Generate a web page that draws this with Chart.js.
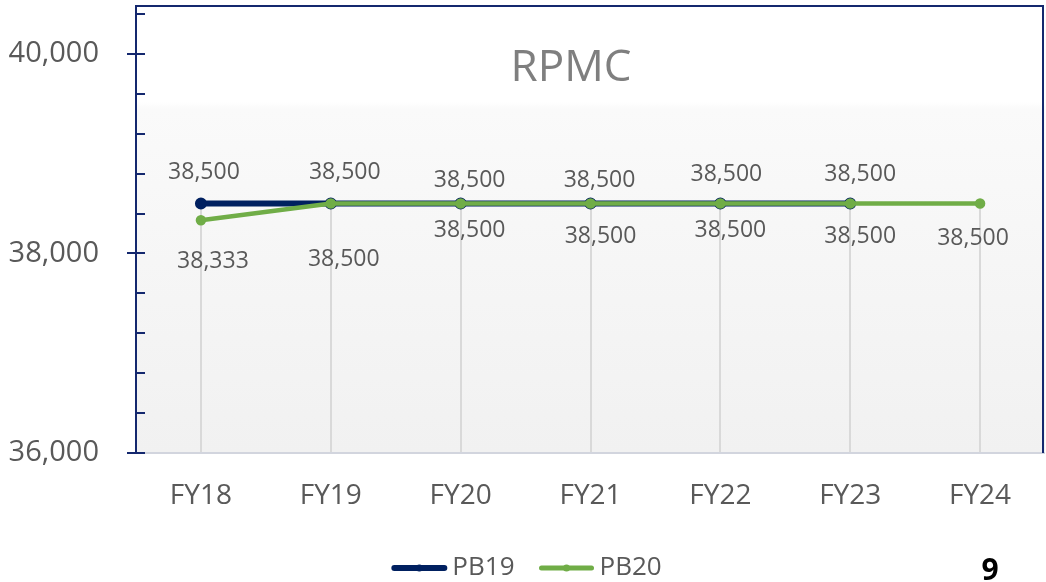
<!DOCTYPE html>
<html>
<head>
<meta charset="utf-8">
<script src="https://cdn.jsdelivr.net/npm/chart.js@4.4.0/dist/chart.umd.min.js"></script>
<style>
  html, body { margin: 0; padding: 0; background: #fff; }
</style>
</head>
<body>
<canvas id="grafico" width="1046" height="582"></canvas>
<script>
// Dados do gráfico
const anos = ["FY18", "FY19", "FY20", "FY21", "FY22", "FY23", "FY24"];
const pb19 = [38500, 38500, 38500, 38500, 38500, 38500, null];
const pb20 = [38333, 38500, 38500, 38500, 38500, 38500, 38500];

// Eixo Y
const yMin = 36000;
const yMax = 40480;
const yPasso = 400;
const yRotulo = 2000;

// Cores e fontes
const corPB19 = "#002060";
const corPB20 = "#70ad47";
const corEixo = "#14286e";
const corTexto = "#595959";
const fonte = "'Open Sans', 'DejaVu Sans', sans-serif";

// Posição manual dos rótulos (como no Excel) [dx, dy]
const deslocPB19 = [[3, -31], [14, -31], [9, -23], [9, -23], [6, -29], [10, -29]];
const deslocPB20 = [[12, 41], [13, 56], [9, 27], [10, 33], [10, 27], [10, 33], [-7, 35]];

const fmt = v => v.toLocaleString("en-US");

// ------------------ Fundo, bordas, linhas de queda ------------------
const moldura = {
    id: "moldura",
    beforeDraw(chart) {
        const { ctx, chartArea: a } = chart;
        ctx.save();
        const g = ctx.createLinearGradient(0, a.top, 0, a.bottom);
        g.addColorStop(0, "#ffffff");
        g.addColorStop(0.215, "#ffffff");
        g.addColorStop(0.23, "#fafafa");
        g.addColorStop(1, "#f1f1f1");
        ctx.fillStyle = g;
        ctx.fillRect(a.left, a.top, a.right - a.left, a.bottom - a.top);
        ctx.restore();
    },
    beforeDatasetsDraw(chart) {
        const { ctx, chartArea: a, scales: { x, y } } = chart;
        ctx.save();

        // linhas verticais do ponto até o eixo
        ctx.strokeStyle = "#d9d9d9";
        ctx.lineWidth = 2;
        anos.forEach((_, i) => {
            const vals = [pb19[i], pb20[i]].filter(v => v != null);
            const topo = y.getPixelForValue(Math.max(...vals));
            const px = Math.round(x.getPixelForValue(i));
            ctx.beginPath();
            ctx.moveTo(px, topo);
            ctx.lineTo(px, a.bottom);
            ctx.stroke();
        });

        // linha inferior
        ctx.strokeStyle = "#d2d5de";
        ctx.lineWidth = 2;
        ctx.beginPath();
        ctx.moveTo(a.left, a.bottom);
        ctx.lineTo(a.right, a.bottom);
        ctx.stroke();

        // borda superior e direita
        ctx.strokeStyle = corEixo;
        ctx.lineWidth = 2;
        ctx.beginPath();
        ctx.moveTo(a.left, a.top);
        ctx.lineTo(a.right - 2, a.top);
        ctx.lineTo(a.right - 2, a.bottom);
        ctx.stroke();

        // marcas do eixo Y
        ctx.lineWidth = 2;
        y.ticks.forEach(t => {
            if (t.value % yPasso !== 0) return;
            const py = Math.round(y.getPixelForValue(t.value));
            const maior = t.value % yRotulo === 0;
            ctx.beginPath();
            ctx.moveTo(maior ? a.left - 9 : a.left + 1, py);
            ctx.lineTo(a.left + 9, py);
            ctx.stroke();
        });

        // título
        ctx.fillStyle = "#7f7f7f";
        ctx.font = "44px " + fonte;
        ctx.textAlign = "center";
        ctx.textBaseline = "middle";
        ctx.fillText("RPMC", 571, 68);
        ctx.restore();
    },
    afterDatasetsDraw(chart) {
        const { ctx } = chart;
        ctx.save();
        ctx.fillStyle = corTexto;
        ctx.font = "23px " + fonte;
        ctx.textAlign = "center";
        ctx.textBaseline = "middle";
        const series = [[pb19, deslocPB19, 0], [pb20, deslocPB20, 1]];
        series.forEach(([dados, desloc, idx]) => {
            const meta = chart.getDatasetMeta(idx);
            dados.forEach((v, i) => {
                if (v == null) return;
                const p = meta.data[i];
                ctx.fillText(fmt(v), p.x + desloc[i][0], p.y + desloc[i][1]);
            });
        });
        ctx.restore();
    },
    afterDraw(chart) {
        const { ctx } = chart;
        ctx.save();
        // legenda
        const itens = [["PB19", corPB19, 6], ["PB20", corPB20, 5]];
        ctx.font = "26px " + fonte;
        ctx.textBaseline = "middle";
        const linha = 54, gap = 6, entre = 25;
        const larguras = itens.map(([n]) => linha + gap + ctx.measureText(n).width);
        const total = larguras.reduce((s, w) => s + w, 0) + entre * (itens.length - 1);
        let lx = 527 - total / 2;
        const ly = 568;
        itens.forEach(([nome, cor, esp], i) => {
            ctx.strokeStyle = cor;
            ctx.lineWidth = esp;
            ctx.lineCap = "round";
            ctx.beginPath();
            ctx.moveTo(lx + 2, ly);
            ctx.lineTo(lx + linha - 2, ly);
            ctx.stroke();
            ctx.fillStyle = cor;
            ctx.beginPath();
            ctx.arc(lx + linha / 2, ly, 3.5, 0, Math.PI * 2);
            ctx.fill();
            ctx.fillStyle = corTexto;
            ctx.textAlign = "left";
            ctx.fillText(nome, lx + linha + gap, ly);
            lx += larguras[i] + entre;
        });

        // número da página
        ctx.fillStyle = "#000000";
        ctx.font = "bold 30px " + fonte;
        ctx.textAlign = "center";
        ctx.textBaseline = "alphabetic";
        ctx.fillText("9", 990, 580);
        ctx.restore();
    }
};

new Chart(document.getElementById("grafico"), {
    type: "line",
    data: {
        labels: anos,
        datasets: [{
            label: "PB19",
            data: pb19,
            borderColor: corPB19,
            backgroundColor: corPB19,
            borderWidth: 6,
            pointRadius: 3,
            pointHoverRadius: 3,
            tension: 0,
            order: 1
        }, {
            label: "PB20",
            data: pb20,
            borderColor: corPB20,
            backgroundColor: corPB20,
            borderWidth: 4.5,
            pointRadius: 3,
            pointHoverRadius: 3,
            tension: 0,
            order: 0
        }]
    },
    options: {
        responsive: false,
        animation: false,
        devicePixelRatio: 1,
        layout: { autoPadding: false, padding: { top: 6, right: 1, bottom: 0, left: 0 } },
        scales: {
            x: {
                offset: true,
                grid: { display: false, drawTicks: false },
                border: { display: false },
                ticks: {
                    color: corTexto,
                    font: { family: fonte, size: 28 },
                    padding: 26,
                    maxRotation: 0
                },
                afterFit(s) {
                    s.height = 129;
                    s.paddingLeft = 0;
                    s.paddingRight = 0;
                }
            },
            y: {
                min: yMin,
                max: yMax,
                grid: { display: false, drawTicks: false },
                border: { display: true, color: corEixo, width: 2 },
                ticks: {
                    autoSkip: false,
                    color: corTexto,
                    font: { family: fonte, size: 29 },
                    padding: 37,
                    callback: v => (v % yRotulo === 0 ? fmt(v) : "")
                },
                afterBuildTicks(s) {
                    const lista = [];
                    for (let v = yMin; v <= yMax; v += yPasso) lista.push({ value: v });
                    s.ticks = lista;
                },
                afterFit(s) {
                    s.width = 136;
                    s.paddingTop = 0;
                    s.paddingBottom = 0;
                }
            }
        },
        plugins: {
            legend: { display: false },
            title: { display: false },
            tooltip: { enabled: false }
        }
    },
    plugins: [moldura]
});
</script>
</body>
</html>
